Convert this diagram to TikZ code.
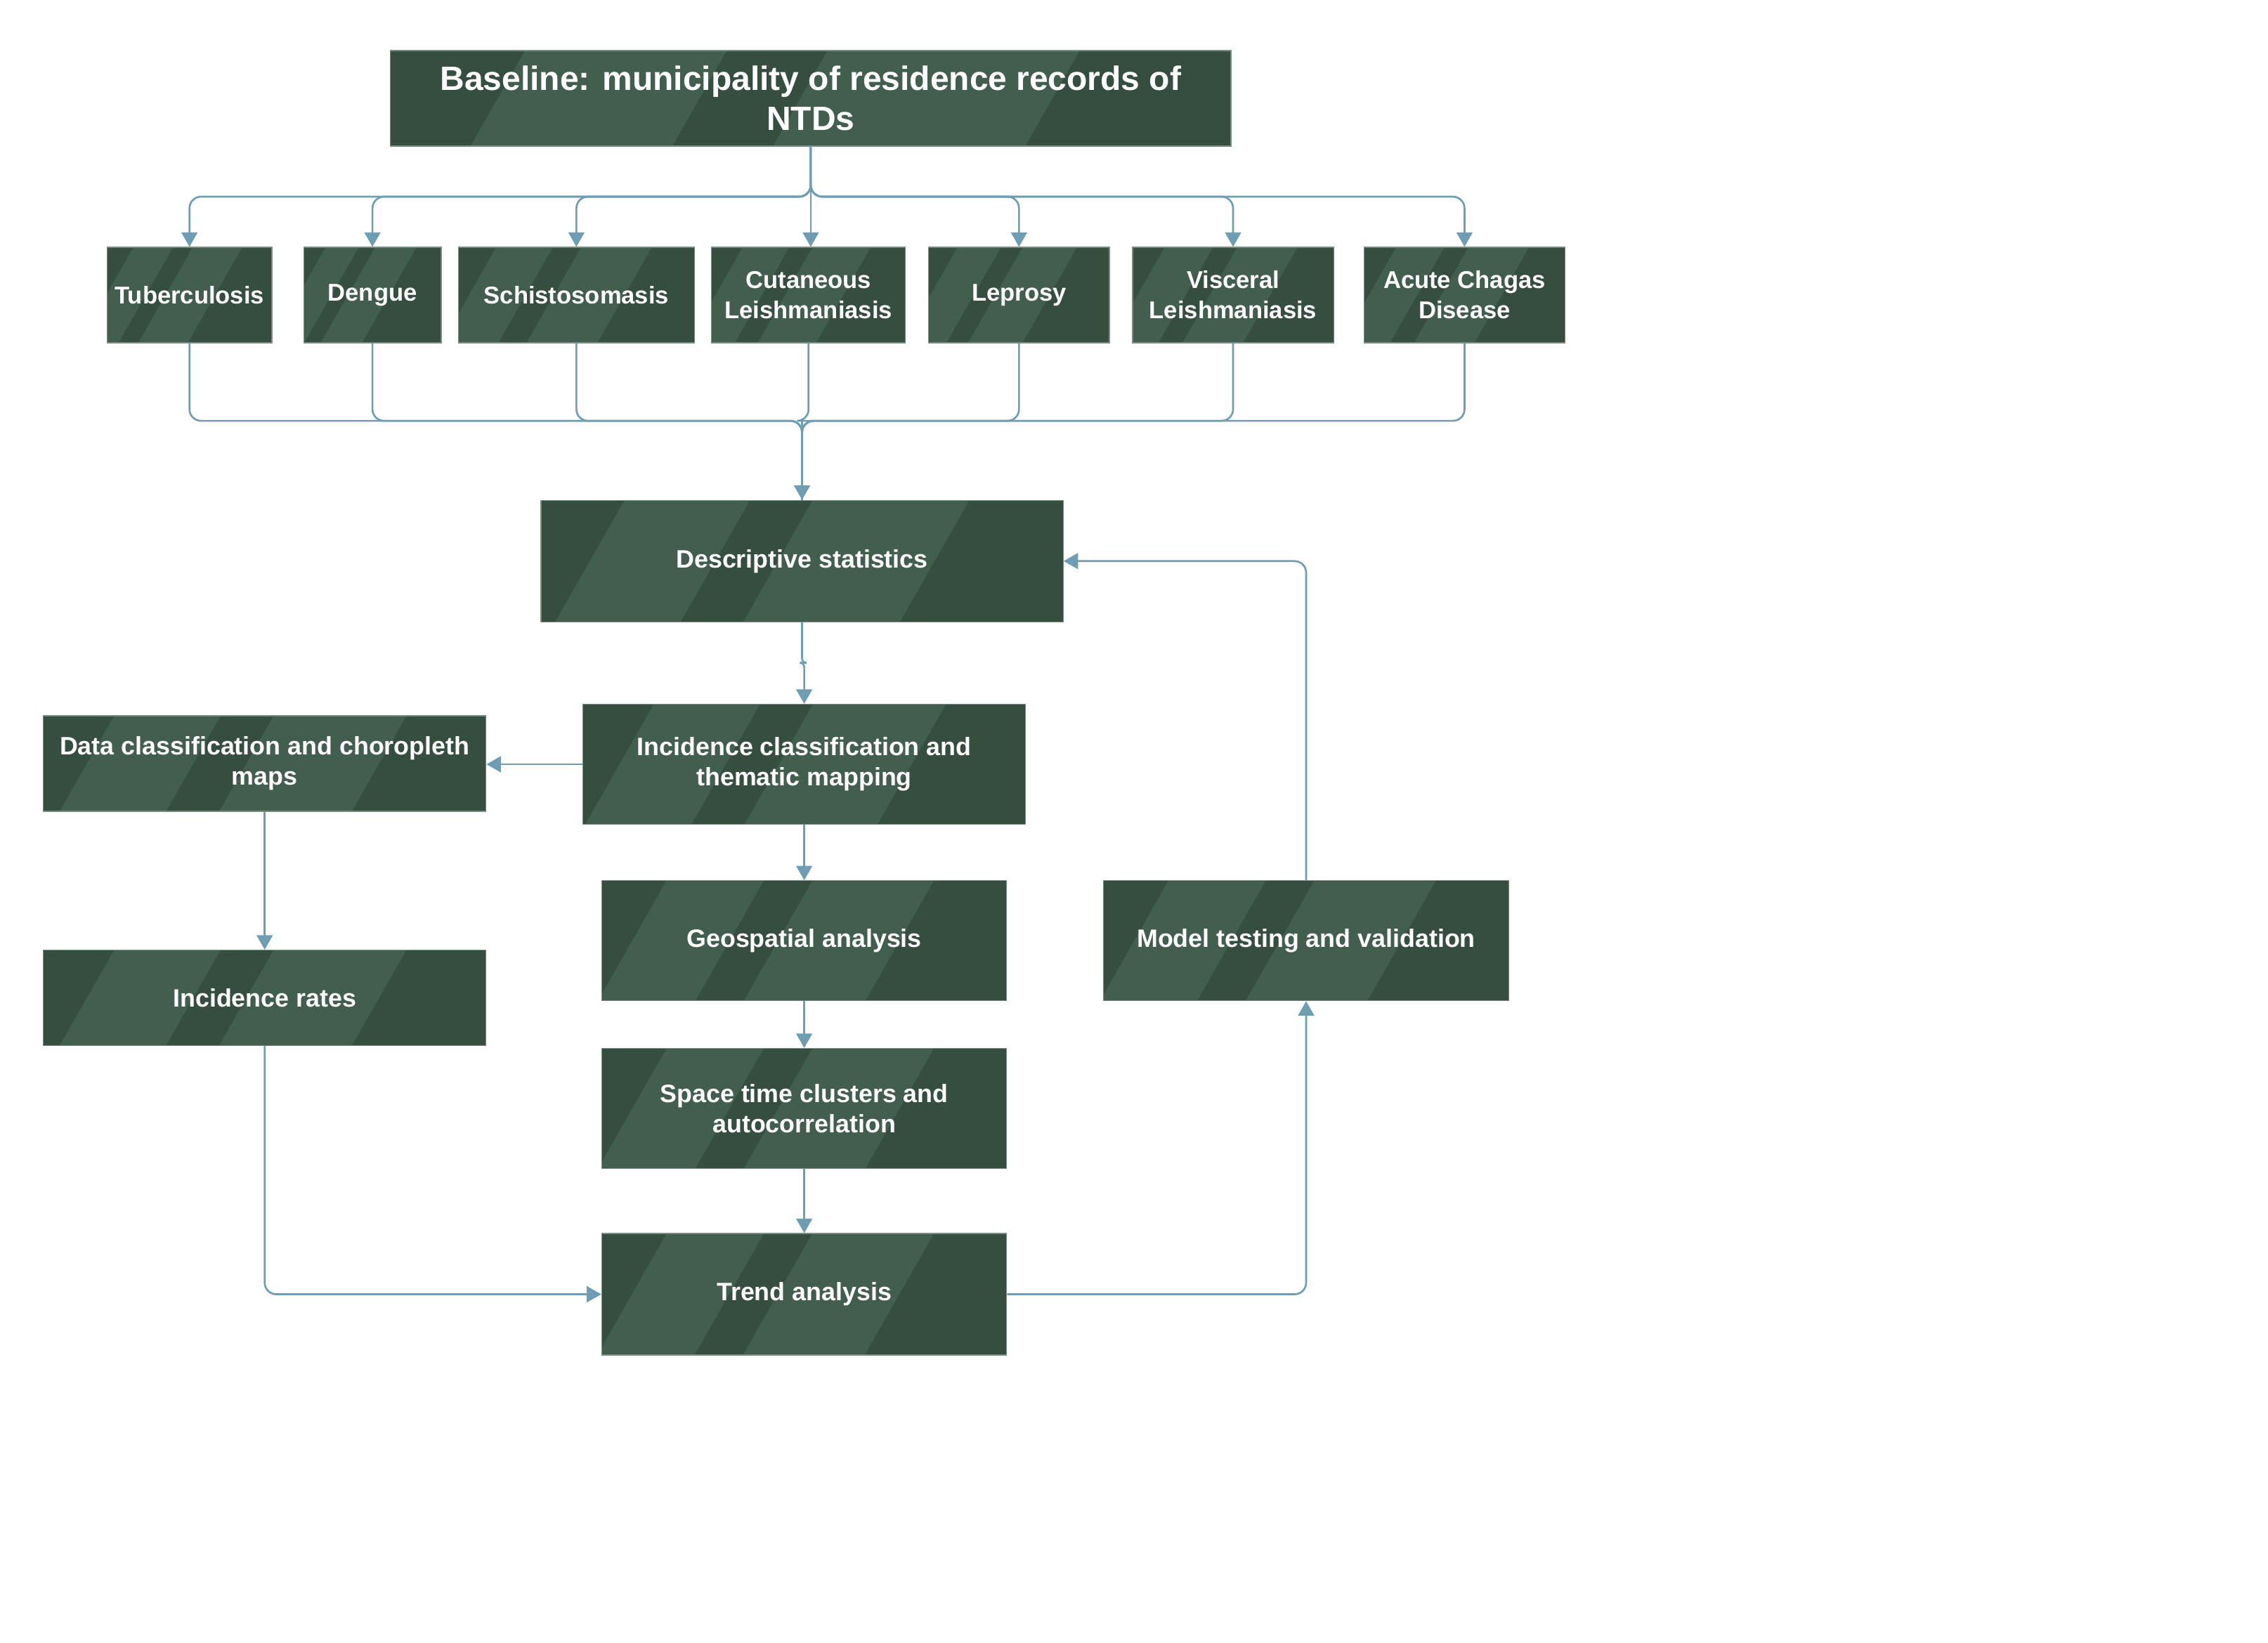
\documentclass[tikz,border=0pt]{standalone}
\usepackage{fontspec}
\setmainfont{Liberation Sans}
\usetikzlibrary{arrows.meta,calc}
\definecolor{boxdark}{RGB}{53,78,64}
\definecolor{boxlight}{RGB}{66,94,78}
\definecolor{boxedge}{RGB}{120,140,130}
\definecolor{conncol}{RGB}{111,157,180}
\tikzset{
  stripebox/.style={rectangle, inner sep=0pt, fill=boxdark, draw=boxedge, line width=0.6pt,
    text=white, font=\fontsize{17.4}{21}\selectfont\bfseries, align=center,
    path picture={
      \fill[boxlight] let \p1=(path picture bounding box.south west), \p2=(path picture bounding box.north east),
        \n1={\x2-\x1}, \n2={\y2-\y1} in
        (\x1+0.16*\n1,\y2) -- (\x1+0.40*\n1,\y2) -- (\x1+0.40*\n1-0.57*\n2,\y1) -- (\x1+0.16*\n1-0.57*\n2,\y1) -- cycle
        (\x1+0.52*\n1,\y2) -- (\x1+0.82*\n1,\y2) -- (\x1+0.82*\n1-0.57*\n2,\y1) -- (\x1+0.52*\n1-0.57*\n2,\y1) -- cycle;
    }},
  diseasebox/.style={stripebox, minimum height=66pt, font=\fontsize{16.8}{21}\selectfont\bfseries},
  conn/.style={draw=conncol, line width=1.3pt, rounded corners=8pt, -{Triangle[width=11pt,length=10pt]}},
  connplain/.style={draw=conncol, line width=1.3pt, rounded corners=8pt},
}
\begin{document}
\begin{tikzpicture}[x=1pt,y=-1pt]
\useasboundingbox[fill=white] (0,0) rectangle (1568,1136);
% nodes
\node[stripebox, minimum width=581pt, minimum height=66pt, font=\fontsize{23.3}{28}\selectfont\bfseries] (base) at (560.5,68) {Baseline: municipality of residence records of\\NTDs};
\node[diseasebox, minimum width=114pt] (tb) at (131,204) {Tuberculosis};
\node[diseasebox, minimum width=95pt] (den) at (257.5,204) {Dengue};
\node[diseasebox, minimum width=163pt] (sch) at (398.5,204) {Schistosomasis};
\node[diseasebox, minimum width=134pt] (cut) at (559,204) {Cutaneous\\Leishmaniasis};
\node[diseasebox, minimum width=125pt] (lep) at (704.5,204) {Leprosy};
\node[diseasebox, minimum width=139pt] (vis) at (852.5,204) {Visceral\\Leishmaniasis};
\node[diseasebox, minimum width=139pt] (cha) at (1012.5,204) {Acute Chagas\\Disease};
\node[stripebox, minimum width=361pt, minimum height=84pt] (desc) at (554.5,388) {Descriptive statistics};
\node[stripebox, minimum width=306pt, minimum height=83pt] (inc) at (556,528.5) {Incidence classification and\\thematic mapping};
\node[stripebox, minimum width=306pt, minimum height=66pt] (data) at (183,528) {Data classification and choropleth\\maps};
\node[stripebox, minimum width=306pt, minimum height=66pt] (rates) at (183,690) {Incidence rates};
\node[stripebox, minimum width=280pt, minimum height=83pt] (geo) at (556,650.5) {Geospatial analysis};
\node[stripebox, minimum width=280pt, minimum height=83pt] (space) at (556,766.5) {Space time clusters and\\autocorrelation};
\node[stripebox, minimum width=280pt, minimum height=84pt] (trend) at (556,895) {Trend analysis};
\node[stripebox, minimum width=280pt, minimum height=83pt] (model) at (903,650.5) {Model testing and validation};
% bus coordinates
\coordinate (topbus) at (560.5,136);
\coordinate (botbus) at (554.5,291);
% fan out
\foreach \t in {tb,den,sch,lep,vis,cha}{
  \draw[conn] (base.south) |- (topbus) -| (\t.north);
}
\draw[conn] (base.south) -- (base.south |- cut.north);
% fan in
\foreach \t in {tb,den,sch,cut,lep,vis,cha}{
  \draw[connplain] (\t.south) |- (botbus) -- (desc.north);
}
\draw[conn] (botbus) -- (desc.north);
% flow
\draw[conn, rounded corners=3pt] (desc.south) -- ++(0,28) -| (inc.north);
\draw[conn] (inc.west) -- (inc.west -| data.east);
\draw[conn] (data.south) -- (rates.north);
\draw[conn] (rates.south) |- (trend.west);
\draw[conn] (inc.south) -- (geo.north);
\draw[conn] (geo.south) -- (space.north);
\draw[conn] (space.south) -- (trend.north);
\draw[conn] (trend.east) -| (model.south);
\draw[conn] (model.north) |- (desc.east);
\end{tikzpicture}
\end{document}
